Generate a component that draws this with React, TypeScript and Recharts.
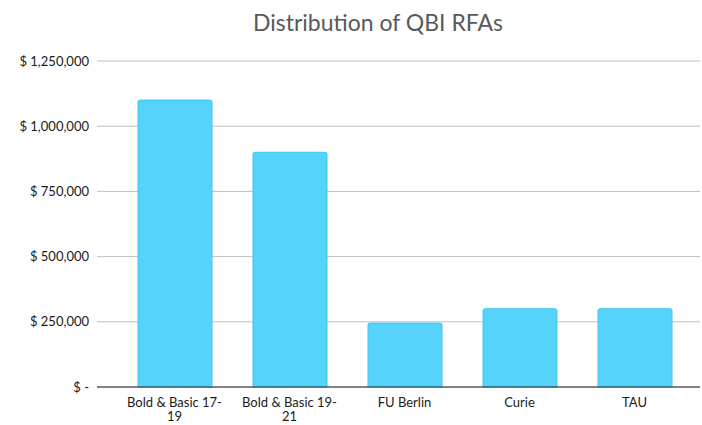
import React from "react"
import { BarChart, Bar, XAxis, YAxis, CartesianGrid } from "recharts"

const categories = ["Bold & Basic 17-19", "Bold & Basic 19-21", "FU Berlin", "Curie", "TAU"]
const amounts = [1100000, 900000, 245000, 300000, 300000]
const yTicks = [0, 250000, 500000, 750000, 1000000, 1250000]

const data = categories.map((name, i) => ({ name, amount: amounts[i] }))

const FONT = "Lato, 'Liberation Sans', sans-serif"

function formatDollar(v: number) {
  if (v === 0) return "$ -"
  return "$ " + v.toLocaleString("en-US")
}

function wrapLabel(text: string): string[] {
  if (text.length <= 14) return [text]
  const cut = text.lastIndexOf("-")
  if (cut > 0) return [text.slice(0, cut + 1), text.slice(cut + 1)]
  return [text]
}

function XTick(props: any) {
  const { x, y, payload } = props
  const lines = wrapLabel(String(payload.value))
  return (
    <g transform={`translate(${x},${y})`}>
      {lines.map((line, i) => (
        <text
          key={i}
          x={0}
          y={12 + i * 14}
          textAnchor="middle"
          fill="#1a1a1a"
          fontSize={13}
          fontFamily={FONT}
        >
          {line}
        </text>
      ))}
    </g>
  )
}

export default function App() {
  return (
    <div style={{ position: "absolute", left: 0, top: 0, width: 702, height: 425, background: "#fff" }}>
      <div
        style={{
          position: "absolute",
          left: 0,
          width: 756,
          top: 8,
          textAlign: "center",
          fontFamily: FONT,
          fontSize: 23,
          color: "#595959",
        }}
      >
        Distribution of QBI RFAs
      </div>
      <BarChart
        width={702}
        height={425}
        data={data}
        margin={{ top: 61, right: 2, bottom: 0, left: 0 }}
        barSize={74}
        style={{ overflow: "visible" }}
      >
        <CartesianGrid vertical={false} stroke="#bfbfbf" />
        <XAxis
          dataKey="name"
          height={38}
          tickLine={false}
          axisLine={{ stroke: "#262626", strokeWidth: 1.2 }}
          padding={{ left: 20, right: 8 }}
          tick={<XTick />}
          interval={0}
        />
        <YAxis
          width={97}
          domain={[0, 1250000]}
          ticks={yTicks}
          tickFormatter={formatDollar}
          axisLine={false}
          tickLine={false}
          tick={{ fill: "#1a1a1a", fontSize: 13, fontFamily: FONT }}
        />
        <Bar
          dataKey="amount"
          fill="#55d3fb"
          stroke="#3ec6ef"
          strokeWidth={1}
          radius={[2, 2, 0, 0]}
          isAnimationActive={false}
        />
      </BarChart>
    </div>
  )
}
